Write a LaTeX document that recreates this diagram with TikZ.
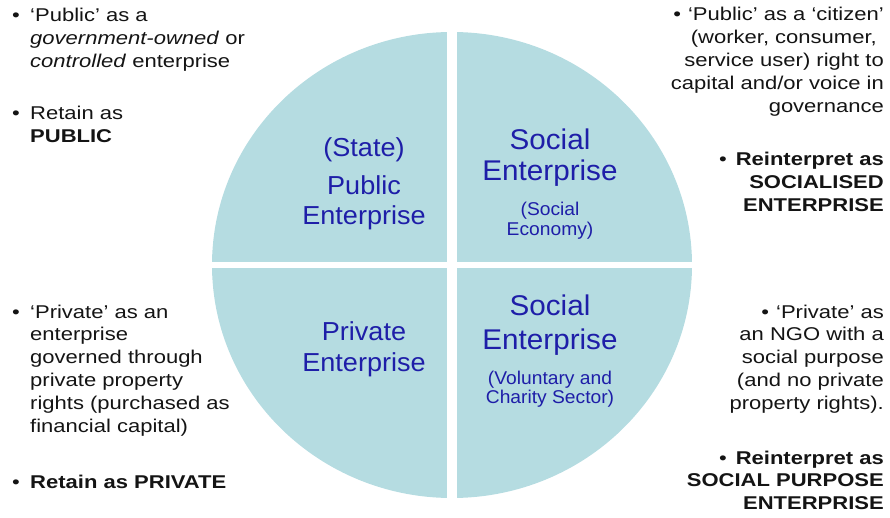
\documentclass[tikz,border=0pt]{standalone}
\usepackage{fontspec}
\setmainfont{Liberation Sans}
\newfontfamily\sidef{Liberation Sans}[FakeStretch=1.19]
\newfontfamily\circf{Liberation Sans}[FakeStretch=1.04]
\usetikzlibrary{shapes.geometric}
\definecolor{disc}{RGB}{181,220,225}
\definecolor{qblue}{RGB}{30,30,168}
\definecolor{ink}{RGB}{20,20,20}
\newcommand{\Lb}[1]{\begin{tabular}[t]{@{}l@{}}#1\end{tabular}}
\newcommand{\Rb}[1]{\begin{tabular}[t]{@{}r@{}}#1\end{tabular}}
\begin{document}
\begin{tikzpicture}[x=1pt,y=-1pt,
  side/.style={font=\sidef\fontsize{18.5}{22.8}\selectfont, text=ink, inner sep=0pt},
  sideL/.style={side, anchor=base west},
  sideR/.style={side, anchor=base east},
  qmid/.style={font=\circf\fontsize{26}{30}\selectfont, text=qblue, inner sep=0pt, anchor=base},
  qbig/.style={font=\circf\fontsize{28.5}{33}\selectfont, text=qblue, inner sep=0pt, anchor=base},
  qsmall/.style={font=\circf\fontsize{18.5}{19}\selectfont, text=qblue, inner sep=0pt, anchor=base},
  gap/.style={draw=white}]
\useasboundingbox (0,0) rectangle (890,518);
% disc
\node[ellipse, fill=disc, inner sep=0pt, minimum width=480pt, minimum height=466pt] (disc) at (452,265) {};
\coordinate (gt) at (452,22);
\coordinate (gb) at (452,510);
\coordinate (gl) at (200,265);
\coordinate (gr) at (704,265);
\draw[gap, line width=10pt] (gt) -- (gb);
\draw[gap, line width=6pt] (gl) -- (gr);
% quadrant labels
\node[qmid] (st) at (364,157) {(State)};
\node[qmid] (pu) at (364,195) {Public};
\node[qmid] (pue) at (364,225) {Enterprise};
\node[qbig] (so1) at (550,150) {Social};
\node[qbig] (so1e) at (550,181) {Enterprise};
\node[qsmall] (se1) at (550,216) {(Social};
\node[qsmall] (se2) at (550,236) {Economy)};
\node[qmid] (pr) at (364,340) {Private};
\node[qmid] (pre) at (364,371) {Enterprise};
\node[qbig] (so2) at (550,315) {Social};
\node[qbig] (so2e) at (550,349) {Enterprise};
\node[qsmall] (vc1) at (550,384) {(Voluntary and};
\node[qsmall] (vc2) at (550,403) {Charity Sector)};
% left top
\node[sideL] (b1) at (12,22) {•};
\node[sideL] (lt1) at (30,22) {\Lb{‘Public’ as a\\ \textit{government-owned} or\\ \textit{controlled} enterprise}};
\node[sideL] (b2) at (12,120) {•};
\node[sideL] (lt2) at (30,120) {\Lb{Retain as\\ \textbf{PUBLIC}}};
% left bottom
\node[sideL] (b3) at (12,318) {•};
\node[sideL] (lb1) at (30,318) {\Lb{‘Private’ as an\\ enterprise\\ governed through\\ private property\\ rights (purchased as\\ financial capital)}};
\node[sideL] (b4) at (12,488) {•};
\node[sideL] (lb2) at (30,488) {\textbf{Retain as PRIVATE}};
% right top
\node[sideR] (rt1) at (884,21) {\Rb{•\hspace{7pt}‘Public’ as a ‘citizen’\\ (worker, consumer,\hspace*{7pt}\\ service user) right to\\ capital and/or voice in\\ governance}};
\node[sideR] (rt2) at (884,166) {\Rb{•\hspace{9pt}\textbf{Reinterpret as}\\ \textbf{SOCIALISED}\\ \textbf{ENTERPRISE}}};
% right bottom
\node[sideR] (rb1) at (884,318) {\Rb{•\hspace{7pt}‘Private’ as\\ an NGO with a\\ social purpose\\ (and no private\\ property rights).}};
\node[sideR] (rb2) at (884,464) {\Rb{•\hspace{9pt}\textbf{Reinterpret as}\\ \textbf{SOCIAL PURPOSE}\\ \textbf{ENTERPRISE}}};
\end{tikzpicture}
\end{document}
